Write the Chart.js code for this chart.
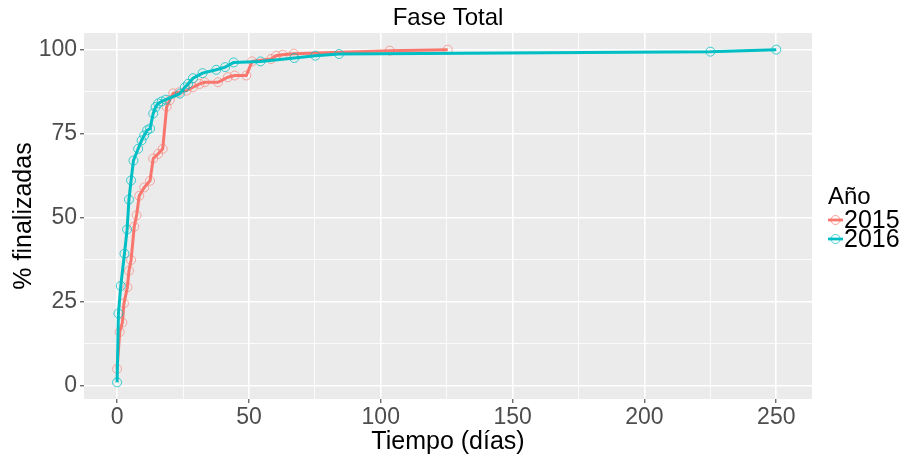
<!DOCTYPE html>
<html>
<head>
<meta charset="utf-8">
<script src="https://cdn.jsdelivr.net/npm/chart.js@4.4.1/dist/chart.umd.min.js"></script>
<style>
  html, body { margin: 0; padding: 0; background: #ffffff; }
  #wrap { width: 907px; height: 459px; }
</style>
</head>
<body>
<div id="wrap"><canvas id="faseChart" width="907" height="459"></canvas></div>
<script>
// days until finished vs. cumulative % finished
const dias2015 = [0, 1, 2, 2.6, 3.9, 4.5, 5.3, 6.5, 7.4, 8.4, 10.3, 12.5, 13.7, 15.6, 17.3, 18.8, 20, 21.3, 23.5, 26.3, 28.8, 31.3, 33.2, 38.3, 42, 44.6, 49, 51.2, 58.4, 60.3, 62.8, 67, 103.4, 125.4];
const pct2015  = [5, 16, 18.8, 24.5, 29.3, 34.2, 37.4, 47.3, 50.7, 56.5, 59, 61, 67.6, 69, 70.5, 83, 85, 87, 87.3, 87.8, 88.8, 89.8, 90.3, 90.3, 91.8, 92.3, 92.3, 96.5, 97.2, 98.2, 98.5, 98.8, 99.7, 100];

const dias2016 = [0, 0.5, 1.4, 2.8, 3.8, 4.5, 5.3, 6.2, 8, 9.3, 10.3, 11.4, 12.5, 13.7, 14.6, 15.6, 16.9, 18.5, 23.8, 25.7, 26.9, 28.8, 32.4, 37.6, 41, 44.2, 54.4, 67.2, 75.2, 84.2, 225, 250];
const pct2016  = [1, 21.5, 29.7, 39.3, 46.5, 55.4, 61.1, 67, 70.5, 73, 74.5, 76, 76.5, 81, 82.9, 84, 84.6, 85.1, 86.9, 88.8, 89.8, 91.5, 93, 94, 94.8, 96.2, 96.5, 97.5, 98.2, 98.7, 99.4, 100];

const xBreaks = [0, 25, 50, 75, 100, 125, 150, 175, 200, 225, 250];
const yBreaks = [0, 12.5, 25, 37.5, 50, 62.5, 75, 87.5, 100];

const rojo = '#F8766D';
const turquesa = '#00BFC4';

const pts2015 = dias2015.map((d, i) => ({ x: d, y: pct2015[i] }));
const pts2016 = dias2016.map((d, i) => ({ x: d, y: pct2016[i] }));

const isMajorX = v => v % 50 === 0;
const isMajorY = v => v % 25 === 0;

// grey panel + title + legend, ggplot style
const ggPlugin = {
  id: 'ggPanel',
  beforeDraw(chart) {
    const { ctx, chartArea: a } = chart;
    ctx.save();
    ctx.fillStyle = '#EBEBEB';
    ctx.fillRect(a.left, a.top, a.right - a.left, a.bottom - a.top);
    ctx.restore();
  },
  afterDraw(chart) {
    const { ctx, chartArea: a } = chart;
    ctx.save();
    ctx.fillStyle = '#000000';
    ctx.font = '24px "Liberation Sans", Arial, sans-serif';
    ctx.textAlign = 'center';
    ctx.textBaseline = 'middle';
    ctx.fillText('Fase Total', (a.left + a.right) / 2, 18);

    // legend
    ctx.textAlign = 'left';
    ctx.font = '24px "Liberation Sans", Arial, sans-serif';
    ctx.fillText('Año', 828, 197);
    const items = [['2015', rojo, 220], ['2016', turquesa, 239]];
    ctx.font = '25px "Liberation Sans", Arial, sans-serif';
    items.forEach(([txt, col, y]) => {
      ctx.strokeStyle = col;
      ctx.lineWidth = 2.8;
      ctx.beginPath();
      ctx.moveTo(828, y);
      ctx.lineTo(843, y);
      ctx.stroke();
      ctx.lineWidth = 1;
      ctx.globalAlpha = 0.7;
      ctx.beginPath();
      ctx.arc(835.5, y, 4.5, 0, Math.PI * 2);
      ctx.stroke();
      ctx.globalAlpha = 1;
      ctx.fillStyle = '#000000';
      ctx.fillText(txt, 844, y + 1);
    });
    ctx.restore();
  }
};

const ctx = document.getElementById('faseChart').getContext('2d');
new Chart(ctx, {
  type: 'line',
  data: {
    datasets: [
      {
        label: '2016',
        data: pts2016,
        borderColor: turquesa,
        borderWidth: 3,
        pointRadius: 4.5,
        pointBorderWidth: 1,
        pointBorderColor: 'rgba(0, 191, 196, 0.75)',
        pointBackgroundColor: 'rgba(0,0,0,0)',
        tension: 0,
        order: 0,
      },
      {
        label: '2015',
        data: pts2015,
        borderColor: rojo,
        borderWidth: 3,
        pointRadius: 4.5,
        pointBorderWidth: 1,
        pointBorderColor: 'rgba(248, 118, 109, 0.6)',
        pointBackgroundColor: 'rgba(0,0,0,0)',
        tension: 0,
        order: 1,
      }
    ]
  },
  options: {
    responsive: false,
    animation: false,
    layout: { padding: { top: 33, right: 95, left: 0, bottom: 0 } },
    plugins: {
      legend: { display: false },
      title: { display: false },
      tooltip: { enabled: false },
    },
    scales: {
      x: {
        type: 'linear',
        min: -12.55,
        max: 263.55,
        afterBuildTicks: (scale) => { scale.ticks = xBreaks.map(v => ({ value: v })); },
        afterFit: (scale) => { scale.height = 60; },
        border: { display: false },
        grid: {
          color: '#FFFFFF',
          lineWidth: (c) => (c.tick && isMajorX(c.tick.value)) ? 1.6 : 0.8,
          drawTicks: true,
          tickLength: 4,
          tickColor: (c) => (c.tick && isMajorX(c.tick.value)) ? '#333333' : 'rgba(0,0,0,0)',
          tickWidth: 1,
        },
        ticks: {
          autoSkip: false,
          maxRotation: 0,
          padding: 1,
          color: '#4D4D4D',
          font: { family: '"Liberation Sans", Arial, sans-serif', size: 23 },
          callback: (v) => isMajorX(v) ? String(v) : '',
        },
        title: {
          display: true,
          text: 'Tiempo (días)',
          color: '#000000',
          font: { family: '"Liberation Sans", Arial, sans-serif', size: 25 },
          padding: { top: 0, bottom: 2 },
        },
      },
      y: {
        type: 'linear',
        min: -3.95,
        max: 104.95,
        afterBuildTicks: (scale) => { scale.ticks = yBreaks.map(v => ({ value: v })); },
        afterFit: (scale) => { scale.width = 84; },
        border: { display: false },
        grid: {
          color: '#FFFFFF',
          lineWidth: (c) => (c.tick && isMajorY(c.tick.value)) ? 1.6 : 0.8,
          drawTicks: true,
          tickLength: 4,
          tickColor: (c) => (c.tick && isMajorY(c.tick.value)) ? '#333333' : 'rgba(0,0,0,0)',
          tickWidth: 1,
        },
        ticks: {
          autoSkip: false,
          padding: 3,
          color: '#4D4D4D',
          font: { family: '"Liberation Sans", Arial, sans-serif', size: 23 },
          callback: (v) => isMajorY(v) ? String(v) : '',
        },
        title: {
          display: true,
          text: '% finalizadas',
          color: '#000000',
          font: { family: '"Liberation Sans", Arial, sans-serif', size: 25 },
          padding: { top: 9, bottom: 0 },
        },
      },
    },
  },
  plugins: [ggPlugin],
});
</script>
</body>
</html>
